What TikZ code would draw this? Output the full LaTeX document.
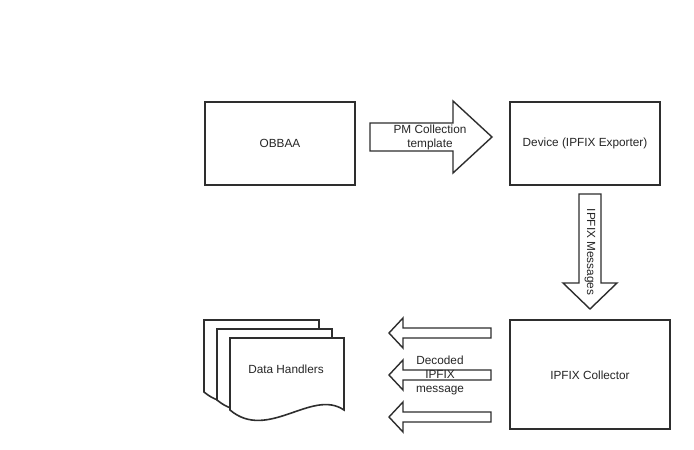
\documentclass[tikz,border=0pt]{standalone}
\usepackage{fontspec}
\setmainfont{Liberation Sans}
\begin{document}
\begin{tikzpicture}[x=1pt,y=-1pt,
  every node/.style={font=\fontsize{11.8}{14}\selectfont, text=black!85, align=center, inner sep=0pt},
  box/.style={draw=black!82, line width=1.7pt, fill=white},
  blockarrow/.style={draw=black!82, line width=1.4pt, fill=white, line join=miter},
  docstyle/.style={draw=black!82, line width=1.6pt, fill=white, line join=miter}]
\useasboundingbox[fill=white] (0,0) rectangle (694,450);
% boxes
\draw[box] (205,102) rectangle (355,185);
\node (obbaa) at (280,143.5) {OBBAA};
\draw[box] (510,102) rectangle (660,185);
\node (device) at (585,143.5) {Device (IPFIX Exporter)};
\draw[box] (510,320) rectangle (670,429);
\node (collector) at (590,375) {IPFIX Collector};
% right block arrow
\draw[blockarrow] (370,123) -- (453,123) -- (453,101) -- (492,137) -- (453,173) -- (453,151) -- (370,151) -- cycle;
\node (pm) at (430,137) {PM Collection\\template};
% down block arrow
\draw[blockarrow] (579,194) -- (601,194) -- (601,283) -- (617,283) -- (590,309) -- (563,283) -- (579,283) -- cycle;
\node[rotate=-90] (msgs) at (590,252) {IPFIX Messages};
% left block arrows
\foreach \c in {333,375,417}{
  \draw[blockarrow] (491,\c-5) -- (403,\c-5) -- (403,\c-15) -- (389,\c) -- (403,\c+15) -- (403,\c+5) -- (491,\c+5) -- cycle;
}
\node (decoded) at (440,375) {Decoded\\IPFIX\\message};
% multi-document
\newcommand{\dochandler}[4]{%
  \draw[docstyle] (#1,#2) -- (#1+#3,#2) -- (#1+#3,#4)
    .. controls (#1+0.72*#3,#4-22) and (#1+0.33*#3,#4+32) .. (#1,#4) -- cycle;}
\dochandler{204}{320}{115}{392}
\dochandler{217}{329}{115}{400}
\dochandler{230}{338}{114}{410}
\node (handlers) at (286,369) {Data Handlers};
\end{tikzpicture}
\end{document}
